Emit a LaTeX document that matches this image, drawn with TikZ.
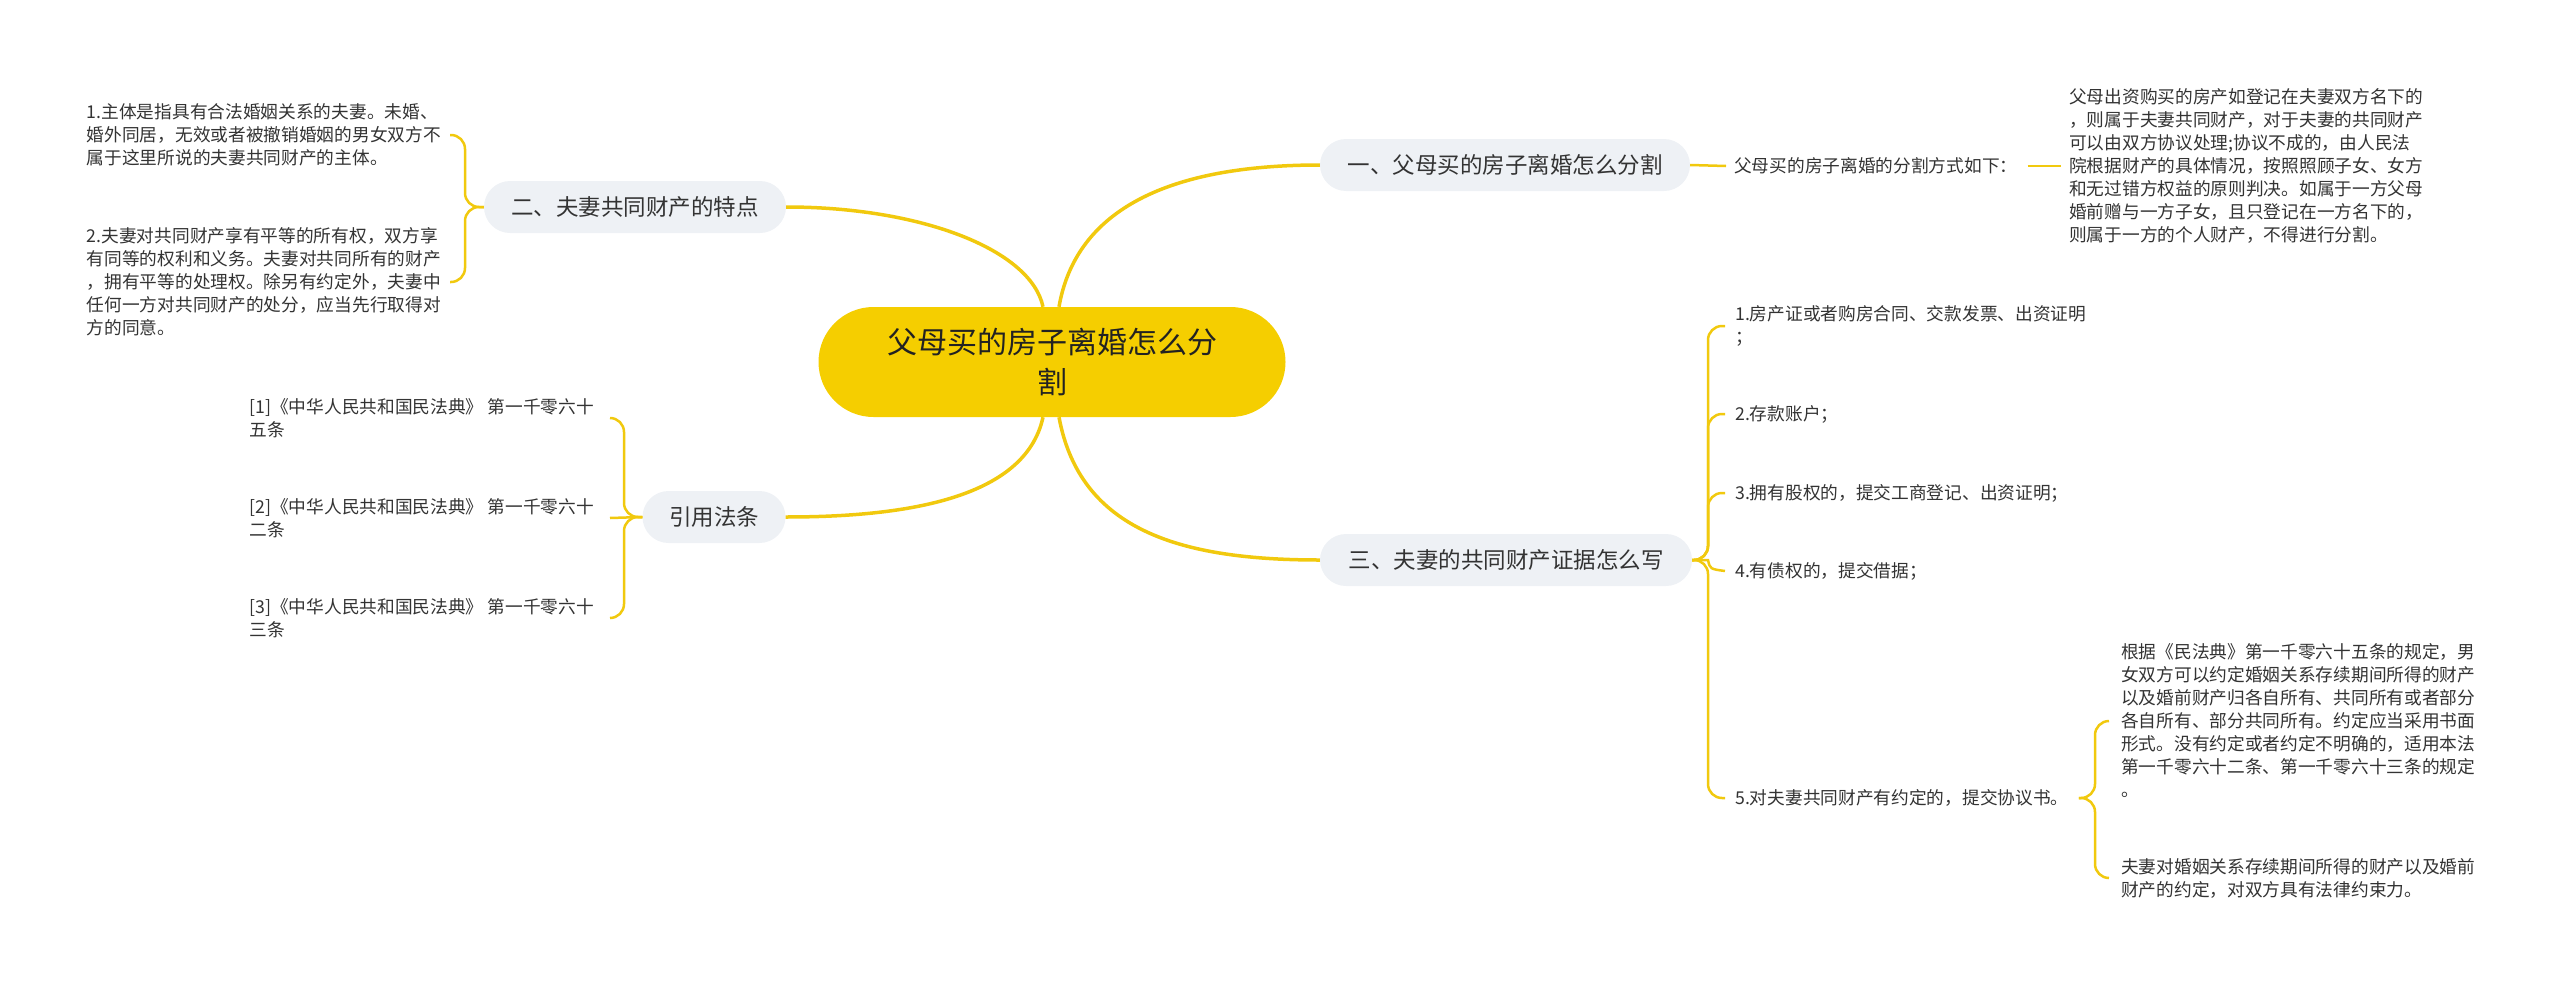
\documentclass[tikz,border=0pt]{standalone}
\usepackage{fontspec}
\newfontfamily\cjk{Noto Sans CJK SC}
\definecolor{lineY}{RGB}{241,201,14}
\definecolor{centerY}{RGB}{245,206,0}
\definecolor{pillG}{RGB}{238,241,245}
\definecolor{txt}{RGB}{51,51,51}
\definecolor{txtmain}{RGB}{34,34,34}
\begin{document}
\begin{tikzpicture}[x=1pt,y=-1pt,
  link/.style={draw=lineY, line width=2.5pt, rounded corners=14pt},
  mainlink/.style={draw=lineY, line width=3.5pt},
  pill/.style={fill=pillG, rounded corners=26pt, minimum height=52pt, inner sep=0pt,
    font=\cjk\fontsize{22.5}{28}\selectfont, text=txt},
  leaf/.style={font=\cjk\fontsize{17.7}{23}\selectfont, text=txt, align=left, inner xsep=10pt, inner ysep=2pt},
  lleaf/.style={leaf, inner xsep=9pt},
  rleaf/.style={leaf, inner xsep=16pt},
  ]
\useasboundingbox (0,0) rectangle (2560,985);

% central topic
\node[fill=centerY, rounded corners=55pt, minimum width=467pt, minimum height=110pt, inner sep=0pt,
  font=\cjk\fontsize{30}{40}\selectfont, align=center, text=txtmain] (c) at (1052,362)
  {父母买的房子离婚怎么分\\割};

% main branches
\node[pill, minimum width=370pt] (p1) at (1505,165) {一、父母买的房子离婚怎么分割};
\node[pill, minimum width=302pt] (p2) at (635,207) {二、夫妻共同财产的特点};
\node[pill, minimum width=143pt] (p3) at (714,517) {引用法条};
\node[pill, minimum width=372pt] (p4) at (1506,560) {三、夫妻的共同财产证据怎么写};

\draw[mainlink] ([xshift=7pt]c.north) .. controls +(16,-92) and +(-160,0) .. (p1.west);
\draw[mainlink] ([xshift=-9pt]c.north) .. controls +(-12,-57) and +(135,0) .. (p2.east);
\draw[mainlink] ([xshift=-9pt]c.south) .. controls +(-18,83) and +(115,0) .. (p3.east);
\draw[mainlink] ([xshift=7pt]c.south) .. controls +(21,113) and +(-140,0) .. (p4.west);

% branch 1
\node[leaf, anchor=west, inner xsep=8pt] (a1) at (1726,166) {父母买的房子离婚的分割方式如下：};
\node[leaf, anchor=west, inner xsep=8pt] (a2) at (2061,166) {父母出资购买的房产如登记在夫妻双方名下的\\
，则属于夫妻共同财产，对于夫妻的共同财产\\
可以由双方协议处理;协议不成的，由人民法\\
院根据财产的具体情况，按照照顾子女、女方\\
和无过错方权益的原则判决。如属于一方父母\\
婚前赠与一方子女，且只登记在一方名下的，\\
则属于一方的个人财产，不得进行分割。};
\draw[link] (p1.east) -- (a1.west);
\draw[link] ([xshift=2pt]a1.east) -- (a2.west);

% branch 2
\node[lleaf, anchor=east] (b1) at (450,135) {1.主体是指具有合法婚姻关系的夫妻。未婚、\\
婚外同居，无效或者被撤销婚姻的男女双方不\\
属于这里所说的夫妻共同财产的主体。};
\node[lleaf, anchor=east] (b2) at (450,282) {2.夫妻对共同财产享有平等的所有权，双方享\\
有同等的权利和义务。夫妻对共同所有的财产\\
，拥有平等的处理权。除另有约定外，夫妻中\\
任何一方对共同财产的处分，应当先行取得对\\
方的同意。};
\coordinate (j2) at (465,207);
\draw[link] (p2.west) -- (j2) -- (j2 |- b1.east) -- (b1.east);
\draw[link] (p2.west) -- (j2) -- (j2 |- b2.east) -- (b2.east);

% branch 3 (citations)
\node[rleaf, anchor=east] (r1) at (610,418) {[1]《中华人民共和国民法典》 第一千零六十\\五条};
\node[rleaf, anchor=east] (r2) at (610,518) {[2]《中华人民共和国民法典》 第一千零六十\\二条};
\node[rleaf, anchor=east] (r3) at (610,618) {[3]《中华人民共和国民法典》 第一千零六十\\三条};
\coordinate (j3) at (624,517);
\draw[link] (p3.west) -- (j3) -- (j3 |- r1.east) -- (r1.east);
\draw[link] (p3.west) -- (r2.east);
\draw[link] (p3.west) -- (j3) -- (j3 |- r3.east) -- (r3.east);

% branch 4
\node[leaf, anchor=west] (k1) at (1725,326) {1.房产证或者购房合同、交款发票、出资证明\\；};
\node[leaf, anchor=west] (k2) at (1725,414) {2.存款账户；};
\node[leaf, anchor=west] (k3) at (1725,493) {3.拥有股权的，提交工商登记、出资证明；};
\node[leaf, anchor=west] (k4) at (1725,571) {4.有债权的，提交借据；};
\node[leaf, anchor=west] (k5) at (1725,798) {5.对夫妻共同财产有约定的，提交协议书。};
\coordinate (j4) at (1708,560);
\draw[link] (p4.east) -- (j4) -- (j4 |- k1.west) -- (k1.west);
\draw[link] (p4.east) -- (j4) -- (j4 |- k2.west) -- (k2.west);
\draw[link] (p4.east) -- (j4) -- (j4 |- k3.west) -- (k3.west);
\draw[link, rounded corners=0pt] (p4.east) -- (j4) .. controls +(2,9) .. (k4.west);
\draw[link] (p4.east) -- (j4) -- (j4 |- k5.west) -- (k5.west);

\node[leaf, anchor=west, inner xsep=12pt] (s1) at (2109,721) {根据《民法典》第一千零六十五条的规定，男\\
女双方可以约定婚姻关系存续期间所得的财产\\
以及婚前财产归各自所有、共同所有或者部分\\
各自所有、部分共同所有。约定应当采用书面\\
形式。没有约定或者约定不明确的，适用本法\\
第一千零六十二条、第一千零六十三条的规定\\
。};
\node[leaf, anchor=west, inner xsep=12pt] (s2) at (2109,878) {夫妻对婚姻关系存续期间所得的财产以及婚前\\
财产的约定，对双方具有法律约束力。};
\coordinate (j5) at (2095,798);
\draw[link] (k5.east) -- (j5) -- (j5 |- s1.west) -- (s1.west);
\draw[link] (k5.east) -- (j5) -- (j5 |- s2.west) -- (s2.west);
\end{tikzpicture}
\end{document}
